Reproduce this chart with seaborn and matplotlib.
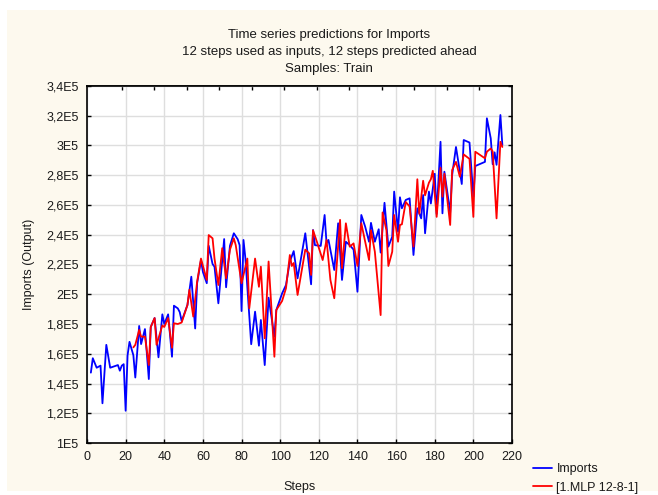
import numpy as np
import pandas as pd
import matplotlib
matplotlib.use("Agg")
import matplotlib.pyplot as plt
from matplotlib.patches import Rectangle
from matplotlib.ticker import FuncFormatter, FixedLocator
import seaborn as sns

# Observed series (training samples)
imports_steps = [2, 3, 5, 7, 8, 10, 12, 16, 17, 18, 19, 20, 21, 22, 24, 25, 27, 28, 30, 32,
                 33, 35, 37, 39, 40, 42, 44, 45, 47, 48, 49, 52, 54, 56, 57, 59, 60, 62, 63, 65,
                 66, 68, 71, 72, 74, 76, 78, 79, 80, 81, 82, 85, 87, 89, 90, 92, 94, 97, 98, 101,
                 103, 105, 107, 109, 113, 116, 117, 118, 121, 123, 124, 125, 128, 130, 132, 134, 136, 138, 140, 142,
                 144, 146, 147, 149, 151, 152, 154, 156, 158, 159, 161, 162, 163, 165, 167, 169, 171, 172, 173, 174,
                 175, 177, 178, 180, 181, 183, 184, 185, 188, 189, 191, 194, 195, 198, 200, 201, 206, 207, 209, 210,
                 211, 212, 214, 215]
imports_values = [147300, 157000, 150600, 152000, 126700, 166000, 150600, 152400, 148600, 152000,
                  153000, 121700, 159000, 168000, 159000, 144000, 178700, 166500, 176600, 143000,
                  178000, 184000, 157600, 186500, 180000, 186500, 158000, 192300, 190500, 188000,
                  182000, 192800, 211800, 177000, 207400, 223000, 215000, 207400, 232600, 220300,
                  218500, 193900, 237100, 204700, 232600, 241000, 237000, 233000, 188700, 236500,
                  224000, 166400, 188300, 165400, 182700, 152400, 197700, 171500, 189400, 200600,
                  206200, 222000, 229000, 210700, 241000, 206700, 243200, 233000, 232500, 253300,
                  234300, 236500, 216300, 247700, 209600, 235300, 233000, 230000, 201700, 253300,
                  245400, 235300, 248000, 235300, 243700, 228000, 261500, 232000, 238700, 269000,
                  242000, 265200, 257800, 263400, 264500, 226400, 257800, 254400, 251000, 266700,
                  241000, 269000, 261000, 281000, 254000, 302500, 254400, 282400, 255000, 280000,
                  299000, 274100, 303700, 302000, 265600, 286200, 289000, 318300, 304800, 287400,
                  295400, 287000, 320500, 300300]

# Network predictions
mlp_steps = [24, 25, 27, 28, 30, 32, 33, 35, 36, 39, 40, 42, 44, 45, 47, 49, 52, 53, 55, 57,
             59, 62, 63, 65, 66, 68, 70, 72, 74, 76, 77, 80, 83, 84, 87, 89, 90, 92, 94, 97,
             98, 101, 103, 105, 106, 107, 109, 113, 115, 116, 117, 119, 122, 124, 126, 128, 131, 132, 134, 136,
             138, 140, 142, 144, 146, 147, 149, 152, 153, 155, 156, 158, 159, 161, 162, 163, 165, 167, 169, 171,
             172, 174, 175, 177, 178, 179, 181, 183, 184, 185, 188, 189, 191, 193, 195, 198, 200, 201, 206, 207,
             209, 210, 212, 214, 215]
mlp_values = [164300, 166000, 176000, 171500, 171500, 152400, 178000, 184000, 166000, 179000,
              178000, 184000, 164000, 180500, 180000, 181000, 192800, 203000, 185000, 208400,
              224000, 209600, 239800, 237600, 224000, 206200, 231000, 210700, 230000, 237600,
              233000, 207400, 224000, 190500, 224000, 205000, 218500, 170400, 222000, 158000,
              189400, 195500, 204000, 226400, 219000, 221000, 199500, 230000, 227500, 213000,
              243000, 235300, 223000, 236500, 209600, 197300, 250000, 217500, 247700, 232000,
              234200, 219000, 247700, 235300, 223000, 243000, 228600, 186000, 255000, 243000,
              219000, 228600, 253300, 235300, 246600, 247000, 262000, 259000, 232000, 277300,
              254000, 276300, 266500, 275000, 277300, 283000, 252000, 285000, 265600, 281000,
              246600, 283500, 289000, 279000, 294000, 291000, 252000, 295800, 291400, 295800,
              298000, 296000, 251000, 302500, 299000]

series_names = ["Imports", "[1.MLP 12-8-1]"]
series_colors = ["#0000FF", "#FF0000"]

x_ticks = list(range(0, 221, 20))
y_ticks = list(range(100000, 340001, 20000))

df = pd.concat([
    pd.DataFrame({"Steps": imports_steps, "value": imports_values, "series": series_names[0]}),
    pd.DataFrame({"Steps": mlp_steps, "value": mlp_values, "series": series_names[1]}),
], ignore_index=True)

sns.set_theme(style="white")
plt.rcParams["font.family"] = ["Liberation Sans", "DejaVu Sans"]

W, H = 658, 495
fig = plt.figure(figsize=(W / 100, H / 100), dpi=100, facecolor="white")
fig.patches.append(Rectangle((7 / W, 4 / H), 1 - 7 / W, 1 - 4 / H - 10 / H,
                             transform=fig.transFigure, facecolor="#FDF9EE",
                             edgecolor="none", zorder=-10))

ax = fig.add_axes([87 / W, 1 - 443 / H, (512 - 87) / W, (443 - 86) / H])
ax.set_facecolor("white")

sns.lineplot(data=df, x="Steps", y="value", hue="series", hue_order=series_names,
             palette=series_colors, estimator=None, sort=True, linewidth=1.3,
             ax=ax, legend=False)

ax.set_xlim(0, 220)
ax.set_ylim(100000, 340000)
ax.set_xticks(x_ticks)
ax.set_yticks(y_ticks)


def sci_fmt(v, pos):
    m = v / 1e5
    s = f"{m:.1f}".rstrip("0").rstrip(".").replace(".", ",")
    return f"{s}E5"


ax.yaxis.set_major_formatter(FuncFormatter(sci_fmt))
ax.grid(True, color="#DEDEDE", linewidth=1.0)
ax.set_axisbelow(True)
for sp in ax.spines.values():
    sp.set_visible(True)
    sp.set_color("black")
    sp.set_linewidth(1.2)

ax.tick_params(axis="both", which="major", direction="in", length=3, width=1,
               color="black", labelsize=9, labelcolor="#1A1A1A", pad=6,
               left=True, bottom=True, right=True, top=False)

# top axis with its own tick spacing, unlabeled
top = ax.secondary_xaxis("top")
top.xaxis.set_major_locator(FixedLocator([18.1 + 16.8 * k for k in range(12)]))
top.tick_params(direction="in", length=3, width=1, color="black", labeltop=False)
top.spines["top"].set_linewidth(1.2)

ax.set_xlabel("Steps", fontsize=9, color="#1A1A1A", labelpad=13)
ax.set_ylabel("Imports (Output)", fontsize=9, color="#1A1A1A", labelpad=8)

fig.text(0.5, 1 - 35 / H, "Time series predictions for Imports", ha="center", va="center",
         fontsize=9.5, color="#1A1A1A")
fig.text(0.5, 1 - 52 / H, "12 steps used as inputs, 12 steps predicted ahead", ha="center",
         va="center", fontsize=9.5, color="#1A1A1A")
fig.text(0.5, 1 - 69 / H, "Samples: Train", ha="center", va="center", fontsize=9.5,
         color="#1A1A1A")

handles = [plt.Line2D([], [], color=c, linewidth=1.3) for c in series_colors]
fig.legend(handles, series_names, loc="upper left",
           bbox_to_anchor=(527 / W, 1 - 457 / H), frameon=False, fontsize=9,
           handlelength=1.5, handletextpad=0.35, labelspacing=0.5, borderpad=0,
           labelcolor="#1A1A1A")

fig.savefig("out.png", dpi=100, facecolor=fig.get_facecolor())
